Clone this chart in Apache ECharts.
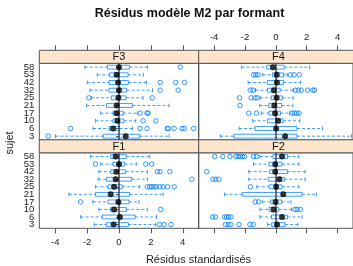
<!DOCTYPE html>
<html>
<head>
<meta charset="utf-8">
<script src="https://cdn.jsdelivr.net/npm/echarts@6/dist/echarts.min.js"></script>
<style>
  html, body { margin: 0; padding: 0; background: #fff; }
  #chart { width: 353px; height: 266px; }
</style>
</head>
<body>
<div id="chart"></div>
<script>
// subjects, bottom to top
const subjects = ['3', '6', '10', '17', '21', '25', '32', '42', '53', '58'];
const xTicks = [-4, -2, 0, 2, 4];

// [whisker low, Q1, median, Q3, whisker high] per subject
const f1Stats = [
  [-1.55, -0.80, -0.34, 0.59, 2.30],
  [-2.41, -1.05, 0.06, 1.01, 2.35],
  [-1.26, -0.52, -0.31, 0.46, 1.78],
  [-1.64, -0.69, -0.04, 0.63, 1.26],
  [-3.14, -1.47, -0.52, 0.67, 2.77],
  [-1.47, -0.69, -0.31, 0.21, 1.30],
  [-1.30, -0.78, -0.21, 0.80, 1.78],
  [-1.26, -0.52, -0.17, 0.42, 1.78],
  [-1.15, -0.38, 0.00, 0.36, 1.09],
  [-1.78, -0.52, -0.21, 0.46, 1.93]
];
const f1Out = [
  [2.54, 2.83, 3.27],
  [],
  [2.62],
  [-2.41],
  [],
  [1.78, 1.93, 2.05, 2.20, 2.35, 2.56, 2.77, 3.04, 3.46],
  [4.57],
  [2.41, 2.58, 3.19],
  [-1.47, 1.68, 2.05],
  []
];

const f2Stats = [
  [-0.55, -0.27, 0.08, 0.60, 1.42],
  [-1.03, -0.29, 0.40, 0.75, 1.70],
  [-1.03, -0.44, -0.15, 0.19, 1.02],
  [-0.88, -0.33, -0.02, 0.38, 0.97],
  [-3.33, -2.18, 0.48, 1.70, 2.64],
  [-1.24, -0.44, 0.02, 0.40, 1.49],
  [-1.76, -0.50, 0.23, 0.55, 1.90],
  [-1.76, -0.40, -0.04, 0.76, 1.90],
  [-1.45, -0.44, -0.04, 0.40, 1.49],
  [-1.03, -0.19, 0.40, 0.76, 1.49]
];
const f2Out = [
  [-3.27, -3.08, -2.92, -2.39, -1.68, -1.47],
  [-4.10, -3.92, -3.33, -3.19, -3.06, -2.91],
  [1.24, 1.38, 1.59],
  [-1.34, -1.13],
  [],
  [-1.65],
  [-4.08, -3.90, -3.70],
  [-4.48],
  [],
  [-3.96, -3.44, -2.98, -2.60, -2.45, -2.30, -2.16, -2.03, -1.45, -1.24]
];

const f3Stats = [
  [-3.98, -0.99, 0.42, 1.30, 3.14],
  [-1.63, -0.62, -0.37, 0.03, 0.85],
  [-1.47, -0.38, -0.10, 0.31, 1.05],
  [-1.15, -0.38, -0.15, 0.27, 1.15],
  [-2.03, -0.78, -0.15, 0.84, 3.14],
  [-1.74, -0.48, -0.04, 0.44, 1.51],
  [-1.82, -0.63, 0.00, 0.48, 2.10],
  [-1.99, -0.63, -0.06, 0.59, 1.72],
  [-1.36, -0.59, -0.15, 0.57, 1.53],
  [-2.14, -0.73, 0.00, 0.66, 1.78]
];
const f3Out = [
  [-4.44],
  [-3.04, 1.32, 1.76, 3.02, 3.10, 3.46, 3.95, 4.09, 4.68],
  [1.51, 2.31],
  [1.32, 1.76, 1.82],
  [],
  [-1.89, 2.08],
  [2.58, 3.71],
  [2.58, 3.56, 4.11],
  [],
  [3.84]
];

const f4Stats = [
  [-3.60, -2.72, 0.60, 1.37, 4.90],
  [-2.38, -1.36, 0.02, 1.37, 3.02],
  [-1.50, -0.54, 0.15, 0.47, 1.55],
  [-0.94, -0.45, -0.05, 0.30, 0.90],
  [-1.05, -0.46, -0.10, 0.38, 1.10],
  [-1.02, -0.30, 0.05, 0.42, 1.12],
  [-1.32, -0.54, -0.13, 0.28, 1.14],
  [-1.80, -0.55, 0.07, 0.50, 1.60],
  [-0.85, -0.22, 0.06, 0.50, 0.74],
  [-2.23, -0.59, -0.19, 0.55, 2.19]
];
const f4Out = [
  [],
  [],
  [],
  [-1.76, -1.26, 1.05, 1.20, 1.35, 1.50],
  [-2.32],
  [-2.35, -1.60, -1.35, -1.20],
  [-1.66, -1.48, 1.25, 1.45, 1.65, 2.06, 2.40, 2.50],
  [],
  [-1.45, -1.30, -1.15, 0.95, 1.18, 1.52],
  []
];

const BLUE = '#0080ff';
const BORDER = '#555';
const STRIP = '#ffe5cc';
const FONT = 'Liberation Sans, Arial, sans-serif';

// lattice layout: col 0/1, row top/bottom
const colLeft = [39.3, 198.7];
const panelW = 159.4;
const stripH = 13;
const rowTop = { top: 63.3, bottom: 152.8 };
const rowH = { top: 76.7, bottom: 75.5 };

const panels = [
  { name: 'F3', stats: f3Stats, out: f3Out, col: 0, row: 'top' },
  { name: 'F4', stats: f4Stats, out: f4Out, col: 1, row: 'top' },
  { name: 'F1', stats: f1Stats, out: f1Out, col: 0, row: 'bottom' },
  { name: 'F2', stats: f2Stats, out: f2Out, col: 1, row: 'bottom' }
];

const chart = echarts.init(document.getElementById('chart'));

function renderBox(params, api) {
  const yi = api.value(0);
  const lo = api.coord([api.value(1), yi]);
  const q1 = api.coord([api.value(2), yi]);
  const q3 = api.coord([api.value(4), yi]);
  const hi = api.coord([api.value(5), yi]);
  const yc = lo[1];
  const h = api.size([0, 1])[1] * 0.5;
  const dashed = { stroke: BLUE, lineWidth: 0.9, lineDash: [3, 2], opacity: 0.85 };
  const solid = { stroke: BLUE, lineWidth: 0.9, fill: null, opacity: 0.85 };
  return {
    type: 'group',
    children: [
      { type: 'line', shape: { x1: lo[0], y1: yc, x2: q1[0], y2: yc }, style: dashed },
      { type: 'line', shape: { x1: q3[0], y1: yc, x2: hi[0], y2: yc }, style: dashed },
      { type: 'line', shape: { x1: lo[0], y1: yc - h / 2, x2: lo[0], y2: yc + h / 2 }, style: solid },
      { type: 'line', shape: { x1: hi[0], y1: yc - h / 2, x2: hi[0], y2: yc + h / 2 }, style: solid },
      { type: 'rect', shape: { x: q1[0], y: yc - h / 2, width: q3[0] - q1[0], height: h }, style: solid }
    ]
  };
}

const grid = [], xAxis = [], yAxis = [], series = [], graphic = [];

panels.forEach(function (p, i) {
  const top = rowTop[p.row];
  const isTop = p.row === 'top';
  grid.push({
    left: colLeft[p.col], top: top, width: panelW, height: rowH[p.row],
    show: true, borderColor: BORDER, borderWidth: 1, backgroundColor: 'transparent'
  });
  // top row: ticks above strip, labels on column 2; bottom row: labels on column 1
  const labelled = isTop ? p.col === 1 : p.col === 0;
  xAxis.push({
    type: 'value', gridIndex: i, min: -5, max: 5,
    position: isTop ? 'top' : 'bottom', offset: isTop ? stripH : 0,
    axisLine: { show: false },
    splitLine: { show: false },
    axisTick: { show: true, length: 5, customValues: xTicks, lineStyle: { color: BORDER } },
    axisLabel: {
      show: labelled, customValues: xTicks, fontSize: 9.5, color: '#222',
      fontFamily: FONT, margin: isTop ? 8 : 9
    }
  });
  yAxis.push({
    type: 'category', gridIndex: i, data: subjects,
    axisLine: { show: false },
    splitLine: { show: false },
    axisTick: { show: p.col === 0, alignWithLabel: true, length: 3, lineStyle: { color: BORDER } },
    axisLabel: { show: p.col === 0, interval: 0, fontSize: 9.5, color: '#222', fontFamily: FONT, margin: 5 }
  });

  series.push({
    type: 'custom', xAxisIndex: i, yAxisIndex: i,
    data: p.stats.map(function (s, k) { return [k].concat(s); }),
    encode: { x: [1, 2, 3, 4, 5], y: 0 },
    renderItem: renderBox,
    z: 3,
    markLine: {
      silent: true, symbol: ['none', 'none'], label: { show: false },
      lineStyle: { color: '#444', width: 1.5, type: 'solid' },
      data: [{ xAxis: 0 }]
    }
  });
  const outPts = [];
  p.out.forEach(function (vals, k) {
    vals.forEach(function (v) { outPts.push([v, k]); });
  });
  series.push({
    type: 'scatter', xAxisIndex: i, yAxisIndex: i, data: outPts,
    symbol: 'circle', symbolSize: 4.5, z: 4,
    itemStyle: { color: 'rgba(255,255,255,0)', borderColor: BLUE, borderWidth: 0.9, opacity: 0.9 }
  });
  series.push({
    type: 'scatter', xAxisIndex: i, yAxisIndex: i,
    data: p.stats.map(function (s, k) { return [s[2], k]; }),
    symbol: 'circle', symbolSize: 6, z: 5,
    itemStyle: { color: '#000' }
  });

  // strip
  graphic.push({
    type: 'rect',
    shape: { x: colLeft[p.col], y: top - stripH, width: panelW, height: stripH },
    style: { fill: STRIP, stroke: BORDER, lineWidth: 1 }
  });
  graphic.push({
    type: 'text',
    x: colLeft[p.col] + panelW / 2, y: top - stripH / 2 + 0.5,
    style: {
      text: p.name, fill: '#111', fontSize: 11, fontFamily: FONT,
      textAlign: 'center', textVerticalAlign: 'middle'
    }
  });
});

graphic.push({
  type: 'text', x: 189.5, y: 14,
  style: {
    text: 'Résidus modèle M2 par formant', fill: '#111', fontSize: 12.5,
    fontWeight: 'bold', fontFamily: FONT, textAlign: 'center', textVerticalAlign: 'middle'
  }
});
graphic.push({
  type: 'text', x: 198.5, y: 260,
  style: {
    text: 'Résidus standardisés', fill: '#222', fontSize: 11, fontFamily: FONT,
    textAlign: 'center', textVerticalAlign: 'middle'
  }
});
graphic.push({
  type: 'text', x: 10, y: 143, rotation: Math.PI / 2,
  style: {
    text: 'sujet', fill: '#222', fontSize: 11, fontFamily: FONT,
    textAlign: 'center', textVerticalAlign: 'middle'
  }
});

chart.setOption({
  animation: false,
  backgroundColor: '#fff',
  grid: grid,
  xAxis: xAxis,
  yAxis: yAxis,
  series: series,
  graphic: graphic
});
</script>
</body>
</html>
